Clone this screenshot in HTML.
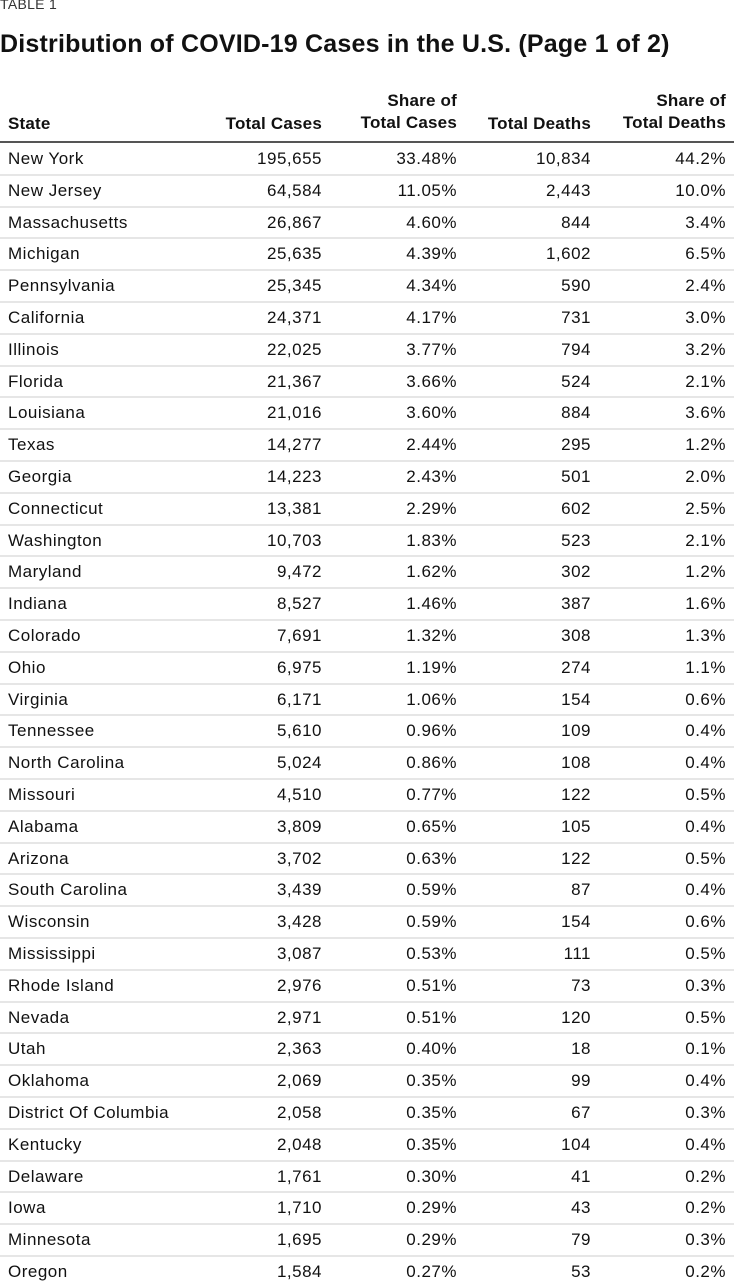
<!DOCTYPE html>
<html><head><meta charset="utf-8">
<style>
body{margin:0;width:734px;height:1287px;background:#fff;font-family:"Liberation Sans",sans-serif;color:#111;position:relative;overflow:hidden}
.a{position:absolute;white-space:nowrap}
.r{text-align:right}
.h{font-weight:bold;font-size:17px;line-height:22px;letter-spacing:0.2px}
.c{font-size:17px;line-height:20px;letter-spacing:0.5px}
.ln{position:absolute;left:0;width:734px;height:2px;background:#e6e6e6}
</style></head><body>
<div class="a" style="left:0;top:-4px;font-size:14px;color:#333;letter-spacing:0.3px">TABLE 1</div>
<div class="a" style="left:0;top:30px;font-size:25px;font-weight:bold;letter-spacing:0.2px">Distribution of COVID-19 Cases in the U.S. (Page 1 of 2)</div>
<div class="a h" style="left:8px;top:113px">State</div>
<div class="a h r" style="right:412px;top:113px">Total Cases</div>
<div class="a h r" style="right:277px;top:90px">Share of<br>Total Cases</div>
<div class="a h r" style="right:143px;top:113px">Total Deaths</div>
<div class="a h r" style="right:8px;top:90px">Share of<br>Total Deaths</div>
<div class="a" style="left:0;top:141px;width:734px;height:2px;background:#555"></div>
<div id="rows"></div>
<script>
const states=["New York","New Jersey","Massachusetts","Michigan","Pennsylvania","California","Illinois","Florida","Louisiana","Texas","Georgia","Connecticut","Washington","Maryland","Indiana","Colorado","Ohio","Virginia","Tennessee","North Carolina","Missouri","Alabama","Arizona","South Carolina","Wisconsin","Mississippi","Rhode Island","Nevada","Utah","Oklahoma","District Of Columbia","Kentucky","Delaware","Iowa","Minnesota","Oregon"];
const totalCases=["195,655","64,584","26,867","25,635","25,345","24,371","22,025","21,367","21,016","14,277","14,223","13,381","10,703","9,472","8,527","7,691","6,975","6,171","5,610","5,024","4,510","3,809","3,702","3,439","3,428","3,087","2,976","2,971","2,363","2,069","2,058","2,048","1,761","1,710","1,695","1,584"];
const shareCases=["33.48%","11.05%","4.60%","4.39%","4.34%","4.17%","3.77%","3.66%","3.60%","2.44%","2.43%","2.29%","1.83%","1.62%","1.46%","1.32%","1.19%","1.06%","0.96%","0.86%","0.77%","0.65%","0.63%","0.59%","0.59%","0.53%","0.51%","0.51%","0.40%","0.35%","0.35%","0.35%","0.30%","0.29%","0.29%","0.27%"];
const totalDeaths=["10,834","2,443","844","1,602","590","731","794","524","884","295","501","602","523","302","387","308","274","154","109","108","122","105","122","87","154","111","73","120","18","99","67","104","41","43","79","53"];
const shareDeaths=["44.2%","10.0%","3.4%","6.5%","2.4%","3.0%","3.2%","2.1%","3.6%","1.2%","2.0%","2.5%","2.1%","1.2%","1.6%","1.3%","1.1%","0.6%","0.4%","0.4%","0.5%","0.4%","0.5%","0.4%","0.6%","0.5%","0.3%","0.5%","0.1%","0.4%","0.3%","0.4%","0.2%","0.2%","0.3%","0.2%"];
const host=document.getElementById('rows');
const top0=143, rh=31.8;
const cols=[[states,'left:8px','cell-state'],[totalCases,'right:412px','cell-total-cases'],[shareCases,'right:277px','cell-share-cases'],[totalDeaths,'right:143px','cell-total-deaths'],[shareDeaths,'right:8px','cell-share-deaths']];
states.forEach((s,i)=>{
  const y=top0+i*rh;
  cols.forEach(([arr,pos,nm],k)=>{
    const d=document.createElement('div');
    d.className='a c'+(k?' r':'');
    d.style.cssText=pos+';top:'+(y+6)+'px';
    d.textContent=arr[i];
    
    
    host.appendChild(d);
  });
  if(i<states.length-1){
    const l=document.createElement('div');
    l.className='ln';
    l.style.top=(y+rh-1)+'px';
    
    
    host.appendChild(l);
  }
});
</script>
</body></html>
